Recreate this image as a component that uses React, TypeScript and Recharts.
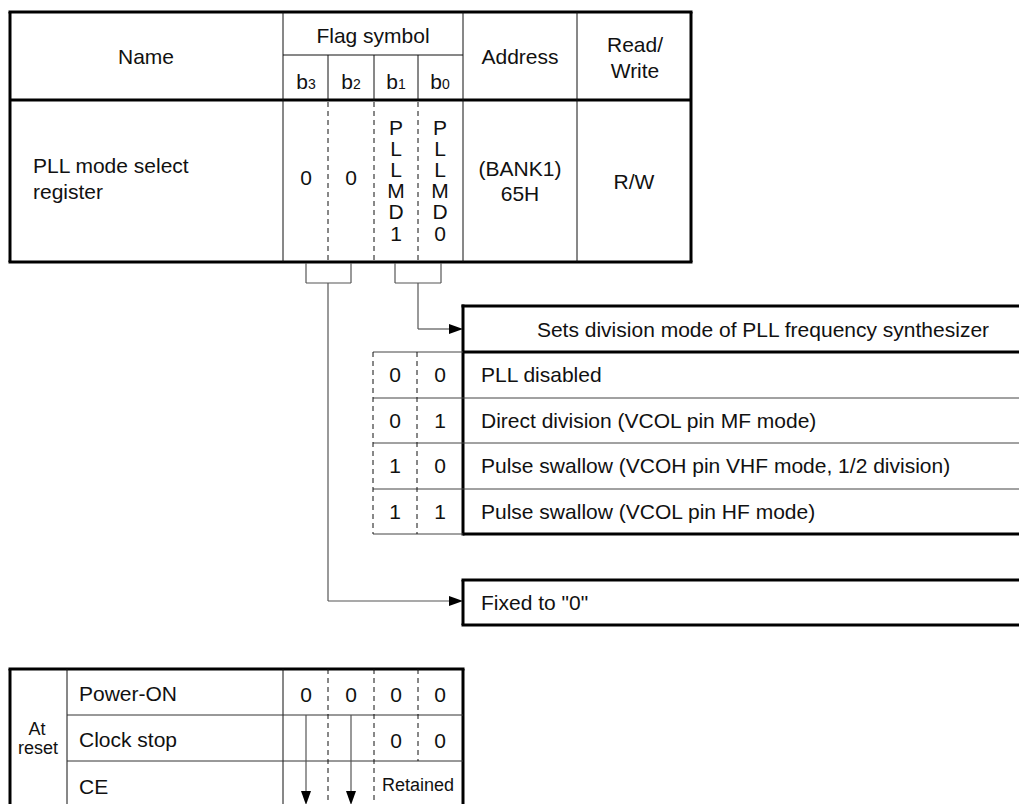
import { ReferenceLine, Scatter, ScatterChart, XAxis, YAxis } from "recharts";

// ---- content ----
const headerLabels = ["Name", "Flag symbol", "Address"];
const readWriteHeader = ["Read/", "Write"];
const bitNames = ["3", "2", "1", "0"];
const registerName = ["PLL mode select", "register"];
const flagValues = ["0", "0", "PLLMD1", "PLLMD0"];
const addressLines = ["(BANK1)", "65H"];
const accessMode = "R/W";

const modeTitle = "Sets division mode of PLL frequency synthesizer";
const modeBits = [
  ["0", "0"],
  ["0", "1"],
  ["1", "0"],
  ["1", "1"],
];
const modeText = [
  "PLL disabled",
  "Direct division (VCOL pin MF mode)",
  "Pulse swallow (VCOH pin VHF mode, 1/2 division)",
  "Pulse swallow (VCOL pin HF mode)",
];
const fixedText = 'Fixed to "0"';

const resetTitle = ["At", "reset"];
const resetRows = ["Power-ON", "Clock stop", "CE"];
const resetPowerOn = ["0", "0", "0", "0"];
const resetClockStop = ["", "", "0", "0"];
const resetCE = "Retained";

// ---- layout ----
const W = 1019;
const H = 804;
const FONT = "'Liberation Sans', Arial, sans-serif";
const colX = [283, 328, 374, 418, 463];
const bitCenter = [306, 351, 396, 440];
const modeCol = [373, 417, 463];
const modeRowY = [352, 398, 443, 489, 534];
const resetRowY = [669, 715, 761, 807];

type Seg = { x1: number; y1: number; x2: number; y2: number; w?: number; c?: string; dash?: string };
type Label = { x: number; y: number; text: string; size?: number; anchor?: string; sub?: string };

const thick = (x1: number, y1: number, x2: number, y2: number): Seg => ({ x1, y1, x2, y2, w: 3, c: "#000" });
const thin = (x1: number, y1: number, x2: number, y2: number): Seg => ({ x1, y1, x2, y2, w: 1, c: "#111" });
const dashed = (x1: number, y1: number, x2: number, y2: number): Seg => ({
  x1, y1, x2, y2, w: 1, c: "#111", dash: "5 4",
});
const wire = (x1: number, y1: number, x2: number, y2: number): Seg => ({ x1, y1, x2, y2, w: 1.2, c: "#555" });

const segments: Seg[] = [
  // register table
  thick(8.5, 12, 692.5, 12),
  thick(8.5, 262, 692.5, 262),
  thick(10, 12, 10, 262),
  thick(691, 12, 691, 262),
  thick(10, 100, 691, 100),
  thin(283, 12, 283, 262),
  thin(463, 12, 463, 262),
  thin(577, 12, 577, 262),
  thin(283, 55, 463, 55),
  ...colX.slice(1, 4).map((x) => thin(x, 55, 100, 0)).map((s) => ({ ...s, x2: s.x1, y1: 55, y2: 100 })),
  ...colX.slice(1, 4).map((x) => dashed(x, 102, x, 261)),
  // brackets & wires
  wire(306, 263, 306, 283),
  wire(306, 283, 351, 283),
  wire(351, 283, 351, 263),
  wire(395, 263, 395, 283),
  wire(395, 283, 441, 283),
  wire(441, 283, 441, 263),
  wire(328, 283, 328, 601),
  wire(328, 601, 450, 601),
  wire(418, 283, 418, 329),
  wire(418, 329, 450, 329),
  // mode table
  thick(461.5, 306, W, 306),
  thick(463, 352, W, 352),
  thick(463, 304.5, 463, 535.5),
  thick(463, 534, W, 534),
  ...modeRowY.slice(1, 4).map((y) => ({ ...thin(373, y, W, y), c: "#444" })),
  { ...thin(373, 352, 463, 352), c: "#444" },
  { ...thin(373, 534, 463, 534), c: "#444" },
  ...modeCol.slice(0, 2).map((x) => dashed(x, 352, x, 534)),
  // fixed box
  thick(461.5, 580, W, 580),
  thick(461.5, 625, W, 625),
  thick(463, 580, 463, 625),
  // reset table
  thick(8.5, 669, 464.5, 669),
  thick(10, 669, 10, H),
  thick(463, 669, 463, H),
  thin(67, 669, 67, H),
  thin(283, 669, 283, H),
  { ...thin(67, 715, 463, 715), c: "#333" },
  { ...thin(67, 761, 463, 761), c: "#333" },
  dashed(328, 669, 328, H),
  dashed(374, 669, 374, H),
  dashed(418, 669, 418, 761),
  wire(306, 715, 306, 792),
  wire(351, 715, 351, 792),
];

const arrows = [
  { x: 463, y: 329, dir: "right" },
  { x: 463, y: 601, dir: "right" },
  { x: 306, y: 805, dir: "down" },
  { x: 351, y: 805, dir: "down" },
];

const labels: Label[] = [
  { x: 146, y: 56, text: headerLabels[0] },
  { x: 373, y: 35, text: headerLabels[1] },
  { x: 520, y: 56, text: headerLabels[2] },
  { x: 635, y: 44, text: readWriteHeader[0] },
  { x: 635, y: 70, text: readWriteHeader[1] },
  ...bitNames.map((b, i) => ({ x: bitCenter[i], y: 81, text: "b", sub: b })),
  ...registerName.map((t, i) => ({ x: 33, y: 165 + i * 26, text: t, anchor: "start" })),
  ...flagValues.flatMap((v, i) =>
    v.length === 1
      ? [{ x: bitCenter[i], y: 177, text: v }]
      : v.split("").map((ch, k) => ({ x: bitCenter[i], y: 127 + k * 21.2, text: ch })),
  ),
  ...addressLines.map((t, i) => ({ x: 520, y: 168 + i * 25, text: t })),
  { x: 634, y: 181, text: accessMode },
  { x: 763, y: 329, text: modeTitle },
  ...modeBits.flatMap((bits, r) =>
    bits.map((b, c) => ({ x: (modeCol[c] + modeCol[c + 1]) / 2, y: (modeRowY[r] + modeRowY[r + 1]) / 2 - 0.5, text: b })),
  ),
  ...modeText.map((t, r) => ({ x: 481, y: (modeRowY[r] + modeRowY[r + 1]) / 2 - 0.5, text: t, anchor: "start" })),
  { x: 481, y: 602, text: fixedText, anchor: "start" },
  { x: 37, y: 729, text: resetTitle[0], size: 18 },
  { x: 38, y: 748, text: resetTitle[1], size: 18 },
  ...resetRows.map((t, r) => ({ x: 79, y: resetRowY[r] + 24 + (r === 2 ? 1 : 0), text: t, anchor: "start" })),
  ...resetPowerOn.map((v, i) => ({ x: bitCenter[i], y: 694, text: v })),
  ...resetClockStop.filter((v) => v).map((v, i) => ({ x: bitCenter[i + 2], y: 740, text: v })),
  { x: 418, y: 785, text: resetCE, size: 18 },
];

const TextMark = (props: any) => {
  const { cx, cy, payload } = props;
  const size = payload.size ?? 21;
  return (
    <text
      x={cx}
      y={cy}
      dy={size * 0.36}
      textAnchor={payload.anchor ?? "middle"}
      fontSize={size}
      fontFamily={FONT}
      fill="#111"
    >
      {payload.text}
      {payload.sub ? <tspan fontSize={14}>{payload.sub}</tspan> : null}
    </text>
  );
};

const ArrowMark = (props: any) => {
  const { cx, cy, payload } = props;
  const pts =
    payload.dir === "right"
      ? `${cx},${cy} ${cx - 14},${cy - 5} ${cx - 14},${cy + 5}`
      : `${cx},${cy} ${cx - 5},${cy - 14} ${cx + 5},${cy - 14}`;
  return <polygon points={pts} fill="#000" />;
};

export default function App() {
  return (
    <div style={{ position: "absolute", left: 0, top: 0, background: "#fff" }}>
      <ScatterChart width={W} height={H} margin={{ top: 0, right: 0, bottom: 0, left: 0 }}>
        <XAxis type="number" dataKey="x" domain={[0, W]} allowDataOverflow hide />
        <YAxis type="number" dataKey="y" domain={[0, H]} allowDataOverflow reversed hide />
        {segments.map((s, i) => (
          <ReferenceLine
            key={i}
            segment={[
              { x: s.x1, y: s.y1 },
              { x: s.x2, y: s.y2 },
            ]}
            stroke={s.c}
            strokeWidth={s.w}
            strokeDasharray={s.dash}
            ifOverflow="visible"
          />
        ))}
        <Scatter data={arrows} shape={ArrowMark} isAnimationActive={false} />
        <Scatter data={labels} shape={TextMark} isAnimationActive={false} />
      </ScatterChart>
    </div>
  );
}
